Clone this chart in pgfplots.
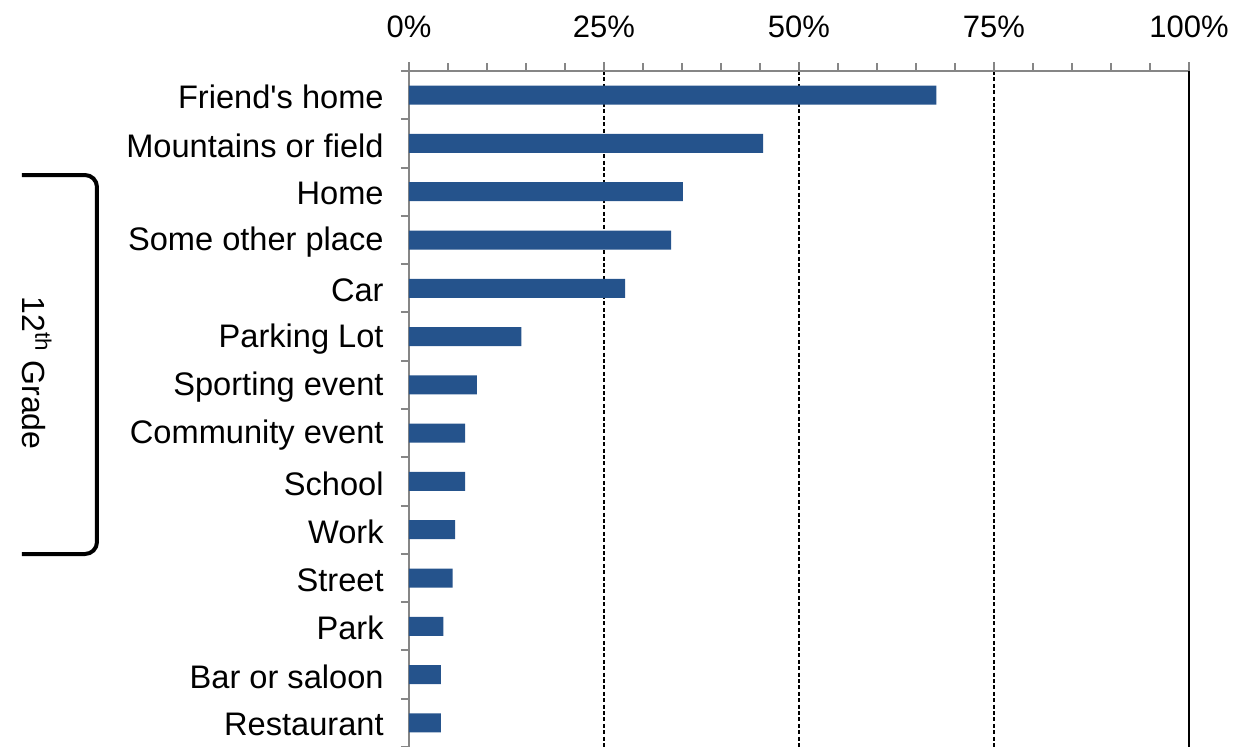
\documentclass[border=0pt]{standalone}
\usepackage{pgfplots}
\pgfplotsset{compat=1.18}
\usepackage{fontspec}
\setmainfont{Liberation Sans}
\definecolor{barblue}{RGB}{37,83,140}
\definecolor{axgray}{RGB}{134,134,134}

\begin{document}
\begin{tikzpicture}
% reference is 1244x746 px, 1px = 0.5pt, plot corner at (0,0)
\useasboundingbox (-204.5pt,35.5pt) rectangle (417.5pt,-337.5pt);
\begin{axis}[%
	at={(0pt,0pt)}, anchor=north west,
	width=390pt, height=338pt, scale only axis,
	xbar, bar width=9.5pt,
	xmin=0, xmax=100,
	ymin=-0.5, ymax=13.5, y dir=reverse,
	axis x line*=top, axis y line*=left,
	axis line style={axgray, line width=1pt, -},
	tick align=outside,
	major tick length=4.5pt, minor tick length=4pt,
	tick style={axgray, line width=1pt},
	xtick={0,25,50,75,100},
	xticklabels={0\%,25\%,50\%,75\%,100\%},
	minor xtick={5,10,15,20,30,35,40,45,55,60,65,70,80,85,90,95},
	xmajorgrids=true,
	grid style={black, line width=1pt, dash pattern=on 2pt off 1.2pt},
	ytick={0,...,13},
	major y tick style={draw=none},
	minor ytick={-0.5,0.5,...,13.5},
	yticklabels={Friend\textquotesingle s home, Mountains or field, Home, Some other place, Car, Parking Lot, Sporting event, Community event, School, Work, Street, Park, Bar or saloon, Restaurant},
	every tick label/.append style={inner sep=0pt},
	xticklabel style={font=\fontsize{15.5}{18}\selectfont, yshift=12pt},
	yticklabel style={font=\fontsize{16.3}{19}\selectfont, anchor=east, xshift=-8pt, yshift=-1pt},
	clip=false]
	\addplot[fill=barblue, draw=none] coordinates {
		(67.6,0) (45.4,1) (35.1,2) (33.6,3) (27.7,4) (14.4,5) (8.7,6)
		(7.2,7) (7.2,8) (5.9,9) (5.6,10) (4.4,11) (4.1,12) (4.1,13)
	};
	\draw[black, line width=1pt] (axis cs:100,-0.5) -- (axis cs:100,13.5);
\end{axis}
% bracket for the 12th grade rows
\draw[line width=2pt, rounded corners=6pt] (-193.5pt,-52pt) -- (-156pt,-52pt) -- (-156pt,-241.5pt) -- (-193.5pt,-241.5pt);
\node[rotate=-90, font=\fontsize{16}{19}\selectfont] at (-186pt,-151pt) {12\textsuperscript{th} Grade};
\end{tikzpicture}
\end{document}
